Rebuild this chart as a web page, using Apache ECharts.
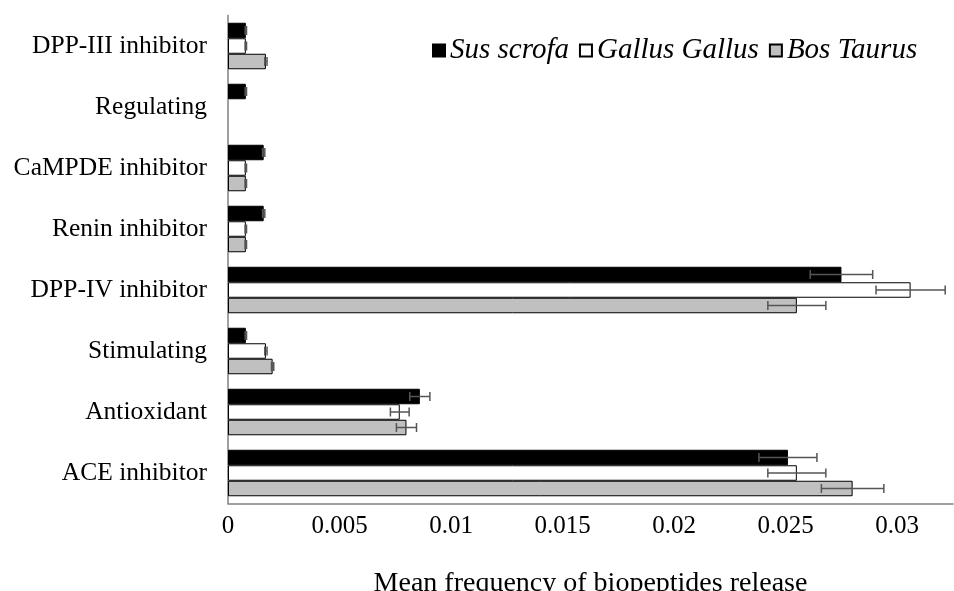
<!DOCTYPE html>
<html>
<head>
<meta charset="utf-8">
<script src="https://cdn.jsdelivr.net/npm/echarts@6/dist/echarts.min.js"></script>
<style>
	html, body { margin: 0; padding: 0; background: #fff; }
	#chart { width: 954px; height: 591px; }
</style>
</head>
<body>
<div id="chart"></div>
<script>
	// categories top to bottom
	const categories = [
		'DPP-III inhibitor',
		'Regulating',
		'CaMPDE inhibitor',
		'Renin inhibitor',
		'DPP-IV inhibitor',
		'Stimulating',
		'Antioxidant',
		'ACE inhibitor'
	];
	const seriesNames = ['Sus scrofa', 'Gallus Gallus', 'Bos Taurus'];
	const susValues = [0.0008, 0.0008, 0.0016, 0.0016, 0.0275, 0.0008, 0.0086, 0.0251];
	const susErrors = [0.00003, 0.00003, 0.00005, 0.00005, 0.0014, 0.00003, 0.00045, 0.0013];
	const gallusValues = [0.0008, 0, 0.0008, 0.0008, 0.0306, 0.0017, 0.0077, 0.0255];
	const gallusErrors = [0.00003, 0, 0.00003, 0.00003, 0.00155, 0.00005, 0.00042, 0.0013];
	const bosValues = [0.0017, 0, 0.0008, 0.0008, 0.0255, 0.002, 0.008, 0.028];
	const bosErrors = [0.00005, 0, 0.00003, 0.00003, 0.0013, 0.00005, 0.00045, 0.0014];
	const xTicks = { min: 0, max: 0.0325, interval: 0.005 };

	const colors = ['#000000', '#ffffff', '#c0c0c0'];
	const allValues = [susValues, gallusValues, bosValues];
	const allErrors = [susErrors, gallusErrors, bosErrors];
	const barWidth = 15.5;
	const font = '"Liberation Serif", "Times New Roman", serif';

	const barSeries = seriesNames.map((name, i) => {
		return {
			name: name,
			type: 'bar',
			barWidth: barWidth,
			barGap: '0%',
			// zero values: no bar at all (avoid a border line on the axis)
			data: allValues[i].map((v) => (v ? v : '-')),
			itemStyle: { color: colors[i], borderColor: '#000', borderWidth: 1 },
			z: 2
		};
	});

	const errorSeries = seriesNames.map((name, i) => {
		return {
			type: 'custom',
			name: name + ' error',
			z: 5,
			silent: true,
			data: allValues[i].map((v, j) => [v, j, allErrors[i][j]]),
			renderItem: (params, api) => {
				const value = api.value(0);
				const err = api.value(2);
				if (!value) return null;
				const catIdx = api.value(1);
				const center = api.coord([value, catIdx]);
				const y = center[1] + (i - 1) * barWidth;
				const lo = api.coord([value - err, catIdx])[0];
				const hi = api.coord([value + err, catIdx])[0];
				const cap = 4.5;
				const style = { stroke: '#555', lineWidth: 1.5 };
				return {
					type: 'group',
					children: [
						{ type: 'line', shape: { x1: lo, y1: y, x2: hi, y2: y }, style: style },
						{ type: 'line', shape: { x1: lo, y1: y - cap, x2: lo, y2: y + cap }, style: style },
						{ type: 'line', shape: { x1: hi, y1: y - cap, x2: hi, y2: y + cap }, style: style }
					]
				};
			}
		};
	});

	const myChart = echarts.init(document.getElementById('chart'));
	const option = {
		animation: false,
		backgroundColor: '#fff',
		textStyle: { fontFamily: font },
		legend: {
			data: seriesNames,
			left: 427,
			top: 31,
			icon: 'rect',
			itemWidth: 12,
			itemHeight: 12,
			itemGap: 10,
			textStyle: { fontFamily: font, fontStyle: 'italic', fontSize: 29, color: '#000' }
		},
		grid: {
			left: 228,
			right: 1,
			top: 15.5,
			bottom: 87.5,
			outerBoundsMode: 'none'
		},
		xAxis: {
			type: 'value',
			min: xTicks.min,
			max: xTicks.max,
			interval: xTicks.interval,
			name: 'Mean frequency of biopeptides release',
			nameLocation: 'middle',
			nameGap: 66,
			nameTextStyle: { fontFamily: font, fontSize: 28, color: '#000' },
			axisLine: { show: true, lineStyle: { color: '#808080', width: 1.5 } },
			axisTick: { show: false },
			splitLine: { show: false },
			axisLabel: {
				fontFamily: font,
				fontSize: 25,
				color: '#000',
				margin: 10,
				showMaxLabel: false,
				formatter: (v) => String(+v.toFixed(4))
			}
		},
		yAxis: {
			type: 'category',
			inverse: true,
			data: categories,
			axisLine: { show: true, lineStyle: { color: '#808080', width: 1.5 } },
			axisTick: { show: false },
			axisLabel: { fontFamily: font, fontSize: 25.5, color: '#000', margin: 21 }
		},
		series: [...barSeries, ...errorSeries]
	};
	myChart.setOption(option, true);
</script>
</body>
</html>
